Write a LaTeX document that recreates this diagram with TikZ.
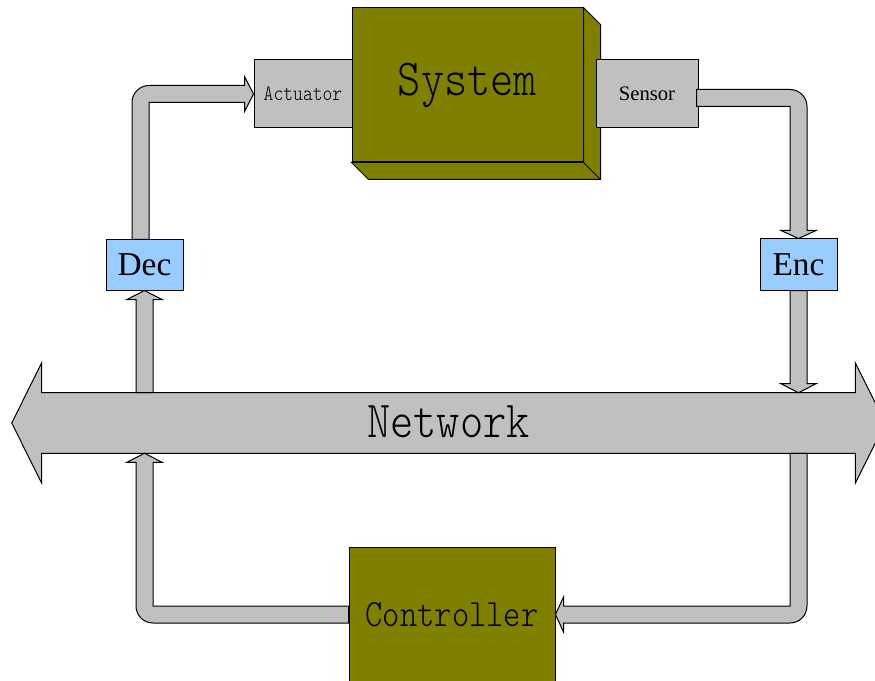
\documentclass[tikz,border=0pt]{standalone}
\usepackage{fontspec}
\setmainfont{Liberation Serif}
\newfontfamily\blockfont[FakeStretch=0.85]{Latin Modern Mono Light}
\usetikzlibrary{calc,backgrounds}

\definecolor{plantolive}{HTML}{808000}
\definecolor{panelgray}{HTML}{C0C0C0}
\definecolor{codecblue}{HTML}{99CCFF}

\begin{document}
\begin{tikzpicture}[x=0.75pt,y=-0.75pt,
  outline/.style={draw=black,line width=0.75pt,line join=miter},
  block/.style={outline,inner sep=0pt,align=center},
  graybox/.style={block,fill=panelgray},
  olivebox/.style={block,fill=plantolive},
  bluebox/.style={block,fill=codecblue},
  fatarrow/.style={outline,fill=panelgray}]

\useasboundingbox (0,0) rectangle (875,681);
\clip (0,0) rectangle (875,681);

% ---------- plant side ----------
\node[graybox,minimum width=73.5pt,minimum height=51pt] (act) at (303,94)
  {\blockfont\fontsize{16.5pt}{16.5pt}\selectfont Actuator};

\node[olivebox,minimum width=173.25pt,minimum height=115.5pt] (sys) at (467.5,85)
  {\blockfont\fontsize{39pt}{39pt}\selectfont System};
% extruded depth of the system block (down and to the right)
\begin{scope}[on background layer]
  \filldraw[outline,fill=plantolive]
    (sys.north east) -- ++(17,17) -- ($(sys.south east)+(17,17)$)
    -- ($(sys.south west)+(17,17)$) -- (sys.south west) -- (sys.south east) -- cycle;
  \draw[outline] (sys.south east) -- ++(17,17);
\end{scope}

\node[graybox,minimum width=76.5pt,minimum height=51pt] (sen) at (647,94)
  {\fontsize{15.5pt}{15.5pt}\selectfont Sensor};

% ---------- codecs ----------
\node[bluebox,minimum width=57.75pt,minimum height=38.25pt] (enc) at (798.5,264.5)
  {\fontsize{25pt}{25pt}\selectfont Enc};
\node[bluebox,minimum width=57.75pt,minimum height=37.5pt] (dec) at (144.5,265)
  {\fontsize{25pt}{25pt}\selectfont Dec};

% ---------- network (double block arrow) ----------
\node[inner sep=0pt,minimum width=609.75pt,minimum height=45pt] (net) at (448.5,422)
  {\blockfont\fontsize{39pt}{39pt}\selectfont Network};
\begin{scope}[on background layer]
  \filldraw[fatarrow]
    ($(net.north west)+(0,1)$) -- ($(net.north east)+(0,1)$) -- ($(net.north east)+(0,-29)$)
    -- ($(net.east)+(30,1)$) -- ($(net.south east)+(0,31)$) -- ($(net.south east)+(0,1)$)
    -- ($(net.south west)+(0,1)$) -- ($(net.south west)+(0,31)$) -- ($(net.west)+(-30,1)$)
    -- ($(net.north west)+(0,-29)$) -- cycle;
\end{scope}

% ---------- controller ----------
\node[olivebox,minimum width=154.5pt,minimum height=101.25pt] (ctl) at (452,614.5)
  {\blockfont\fontsize{29pt}{29pt}\selectfont Controller};

% ---------- block arrows ----------
% sensor -> encoder
\coordinate (s1) at ($(sen.east)+(-2,4)$);
\coordinate (c1) at (enc.north |- s1);
\filldraw[fatarrow]
  ($(s1)+(0,-8.5)$) -- ($(c1)+(-8.5,-8.5)$)
  .. controls ($(c1)+(0.9,-8.5)$) and ($(c1)+(8.5,-0.9)$) .. ($(c1)+(8.5,8.5)$)
  -- ($(enc.north)+(8.5,-8)$) -- ($(enc.north)+(17.5,-8)$) -- (enc.north)
  -- ($(enc.north)+(-17.5,-8)$) -- ($(enc.north)+(-8.5,-8)$)
  -- ($(c1)+(-8.5,8.5)$) -- ($(s1)+(0,8.5)$) -- cycle;

% encoder -> network
\coordinate (t2) at ($(enc.south |- net.north)+(0,1)$);
\filldraw[fatarrow]
  ($(enc.south)+(-8.5,0)$) -- ($(t2)+(-8.5,-9)$) -- ($(t2)+(-17.5,-9)$) -- (t2)
  -- ($(t2)+(17.5,-9)$) -- ($(t2)+(8.5,-9)$) -- ($(enc.south)+(8.5,0)$) -- cycle;

% network -> controller
\coordinate (s3) at ($(enc.south |- net.south)+(0,1)$);
\coordinate (c3) at (s3 |- ctl.east);
\filldraw[fatarrow]
  ($(s3)+(-8.5,0)$) -- ($(c3)+(-8.5,-8.5)$) -- ($(ctl.east)+(8,-8.5)$)
  -- ($(ctl.east)+(8,-17.5)$) -- (ctl.east) -- ($(ctl.east)+(8,17.5)$)
  -- ($(ctl.east)+(8,8.5)$) -- ($(c3)+(-8.5,8.5)$)
  .. controls ($(c3)+(0.9,8.5)$) and ($(c3)+(8.5,0.9)$) .. ($(c3)+(8.5,-8.5)$)
  -- ($(s3)+(8.5,0)$) -- cycle;

% controller -> network
\coordinate (c4) at (dec.south |- ctl.west);
\coordinate (t4) at ($(dec.south |- net.south)+(0,1)$);
\filldraw[fatarrow]
  ($(ctl.west)+(0,-8.5)$) -- ($(c4)+(8.5,-8.5)$) -- ($(t4)+(8.5,9)$)
  -- ($(t4)+(17.5,9)$) -- (t4) -- ($(t4)+(-17.5,9)$) -- ($(t4)+(-8.5,9)$)
  -- ($(c4)+(-8.5,-8.5)$)
  .. controls ($(c4)+(-8.5,0.9)$) and ($(c4)+(-0.9,8.5)$) .. ($(c4)+(8.5,8.5)$)
  -- ($(ctl.west)+(0,8.5)$) -- cycle;

% network -> decoder
\coordinate (s5) at ($(dec.south |- net.north)+(0,1)$);
\filldraw[fatarrow]
  ($(s5)+(-8.5,0)$) -- ($(dec.south)+(-8.5,9)$) -- ($(dec.south)+(-17.5,9)$)
  -- (dec.south) -- ($(dec.south)+(17.5,9)$) -- ($(dec.south)+(8.5,9)$)
  -- ($(s5)+(8.5,0)$) -- cycle;

% decoder -> actuator
\coordinate (s6) at ($(dec.north)+(-4,0)$);
\coordinate (c6) at (s6 |- act.west);
\filldraw[fatarrow]
  ($(s6)+(-8.5,0)$) -- ($(c6)+(-8.5,8.5)$)
  .. controls ($(c6)+(-8.5,-0.9)$) and ($(c6)+(-0.9,-8.5)$) .. ($(c6)+(8.5,-8.5)$)
  -- ($(act.west)+(-9,-8.5)$) -- ($(act.west)+(-9,-17.5)$) -- (act.west)
  -- ($(act.west)+(-9,17.5)$) -- ($(act.west)+(-9,8.5)$)
  -- ($(c6)+(8.5,8.5)$) -- ($(s6)+(8.5,0)$) -- cycle;

\end{tikzpicture}
\end{document}
